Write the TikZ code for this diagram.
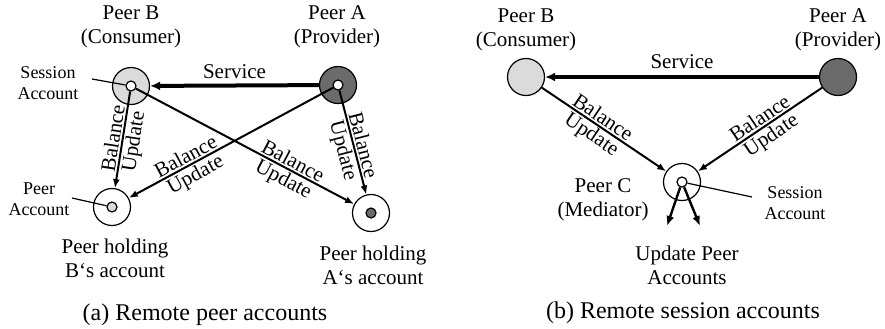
\documentclass[tikz,border=0pt]{standalone}
\usepackage{fontspec}
\setmainfont{Liberation Serif}
\usetikzlibrary{arrows.meta}
\definecolor{lightpeer}{gray}{0.86}
\definecolor{darkpeer}{gray}{0.42}

\tikzset{
  peer/.style={circle,draw,line width=0.6pt,minimum size=18.5pt,inner sep=0pt},
  acct/.style={circle,draw,line width=0.6pt,minimum size=5pt,inner sep=0pt},
  lbl/.style={align=center,font=\fontsize{10.5}{12}\selectfont},
  small/.style={align=center,font=\fontsize{9}{10.5}\selectfont},
  captext/.style={font=\fontsize{12}{14}\selectfont},
  service/.style={line width=2pt,-{Latex[length=5pt,width=4.5pt]}},
  balance/.style={line width=1pt,-{Latex[length=4.5pt,width=3.5pt]}},
  bal/.style={sloped,inner sep=0.8pt,font=\fontsize{10.5}{11}\selectfont},
  pointer/.style={line width=0.6pt}
}

\begin{document}
\begin{tikzpicture}[x=0.5pt,y=-0.5pt]
    \useasboundingbox (0,0) rectangle (885,328);
    % (a) remote peer accounts
    \node[peer,fill=lightpeer] (pB) at (131,86) {};
    \node[acct,fill=white] (sB) at (131,86) {};
    \node[peer,fill=darkpeer] (pA) at (338,85) {};
    \node[acct,fill=white] (sA) at (338,85) {};
    \node[peer,fill=white] (hB) at (112,207) {};
    \node[acct,fill=lightpeer] (aB) at (112,207) {};
    \node[peer,fill=white] (hA) at (371,213) {};
    \node[acct,fill=darkpeer] (aA) at (371,213) {};
    \node[lbl] (tB) at (131,27) {Peer B\\(Consumer)};
    \node[lbl] (tA) at (337,27) {Peer A\\(Provider)};
    \node[small] (lsB) at (48,83) {Session\\Account};
    \node[small] (laB) at (39,199) {Peer\\Account};
    \node[lbl] (thB) at (115,258) {Peer holding\\B`s account};
    \node[lbl] (thA) at (373,265) {Peer holding\\A`s account};
    \node[captext] (capa) at (205,315) {(a) Remote peer accounts};
    \draw[service] (pA) -- node[above=-1pt,lbl]{Service} (pB);
    \draw[balance] (sB) -- node[bal,above,pos=0.5]{Balance} node[bal,below,pos=0.5]{Update} (hB);
    \draw[balance] (sA) -- node[bal,above,pos=0.7]{Balance} node[bal,below,pos=0.7]{Update} (hB);
    \draw[balance] (sB) -- node[bal,above,pos=0.7]{Balance} node[bal,below,pos=0.7]{Update} (hA);
    \draw[balance] (sA) -- node[bal,above,pos=0.55]{Balance} node[bal,below,pos=0.55]{Update} (hA);
    \coordinate (psB) at (92,79);
    \coordinate (paB) at (72,198);
    \draw[pointer] (psB) -- (sB);
    \draw[pointer] (paB) -- (aB);

    % (b) remote session accounts
    \node[peer,fill=lightpeer] (qB) at (526,77) {};
    \node[peer,fill=darkpeer] (qA) at (838,77) {};
    \node[peer,fill=white] (qC) at (682,182) {};
    \node[acct,fill=white] (sC) at (682,182) {};
    \node[lbl] (uB) at (526,30) {Peer B\\(Consumer)};
    \node[lbl] (uA) at (838,30) {Peer A\\(Provider)};
    \node[lbl] (uC) at (603,200) {Peer C\\(Mediator)};
    \node[small] (lsC) at (795,203) {Session\\Account};
    \node[lbl] (upd) at (687,265) {Update Peer\\Accounts};
    \node[captext] (capb) at (683,313) {(b) Remote session accounts};
    \draw[service] (qA) -- node[above,lbl]{Service} (qB);
    \draw[balance] (qB) -- node[bal,above,pos=0.45]{Balance} node[bal,below,pos=0.45]{Update} (qC);
    \draw[balance] (qA) -- node[bal,above,pos=0.46]{Balance} node[bal,below,pos=0.46]{Update} (qC);
    \coordinate (dL) at (667,226);
    \coordinate (dR) at (700,226);
    \draw[line width=1.2pt,-{Latex[length=5pt,width=4pt]}] (sC) -- (dL);
    \draw[line width=1.2pt,-{Latex[length=5pt,width=4pt]}] (sC) -- (dR);
    \coordinate (psC) at (752,197);
    \draw[pointer] (psC) -- (sC);
\end{tikzpicture}
\end{document}
